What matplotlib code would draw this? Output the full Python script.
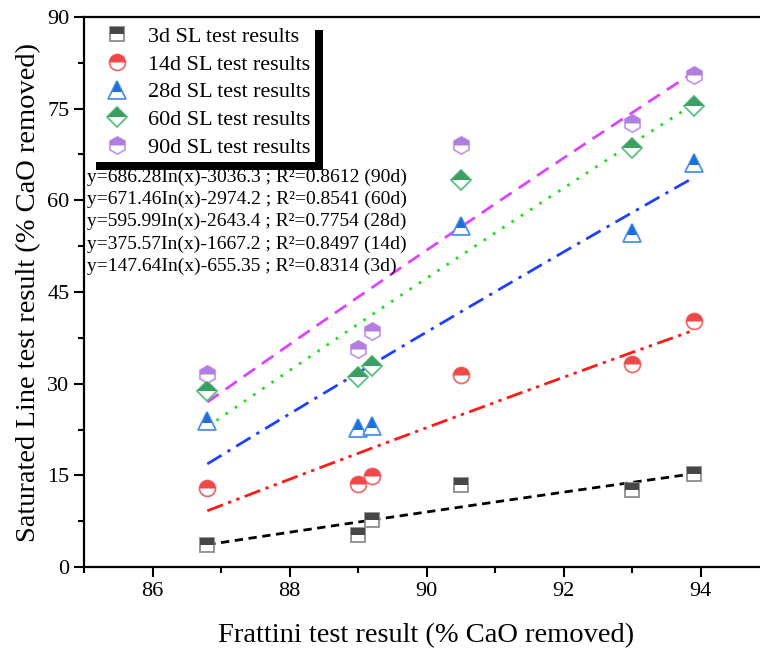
import numpy as np
import matplotlib
matplotlib.use("Agg")
import matplotlib.pyplot as plt
from matplotlib.patches import Rectangle
from matplotlib.ticker import MultipleLocator

plt.rcParams['font.family'] = ['Liberation Serif', 'DejaVu Serif']
plt.rcParams['mathtext.fontset'] = 'stix'

# Data
frattini = [86.8, 89.0, 89.2, 90.5, 93.0, 93.9]
sl_3d = [3.6, 5.2, 7.7, 13.4, 12.6, 15.2]
sl_14d = [12.9, 13.6, 14.9, 31.4, 33.2, 40.3]
sl_28d = [23.9, 22.7, 23.1, 55.8, 54.7, 66.1]
sl_60d = [28.8, 31.1, 32.9, 63.3, 68.6, 75.4]
sl_90d = [31.6, 35.7, 38.6, 69.1, 72.7, 80.5]

labels = ["3d SL test results", "14d SL test results", "28d SL test results",
          "60d SL test results", "90d SL test results"]
fit_a = [147.64, 375.57, 595.99, 671.46, 686.28]
fit_b = [-655.35, -1667.2, -2643.4, -2974.2, -3036.3]
fit_r2 = ["0.8314", "0.8497", "0.7754", "0.8541", "0.8612"]
fit_tag = ["3d", "14d", "28d", "60d", "90d"]
fit_a_txt = ["147.64", "375.57", "595.99", "671.46", "686.28"]
fit_b_txt = ["655.35", "1667.2", "2643.4", "2974.2", "3036.3"]

series = [sl_3d, sl_14d, sl_28d, sl_60d, sl_90d]
markers = ['s', 'o', '^', 'D', 'h']
face = ['#474747', '#f04848', '#1f6fd8', '#3aa062', '#b07ee0']
edge = ['#8c8c8c', '#f06a6a', '#4d90ea', '#5cbf82', '#c29ae8']
msizes = [10, 11.5, 12.5, 10.5, 12.5]
line_colors = ['black', '#ff1a1a', '#2040ff', '#22dd22', '#dd44ff']
line_styles = [(0, (3, 2)), (0, (6, 2, 1.2, 2, 1.2, 2)), (0, (6, 2.5, 1.2, 2.5)),
               (0, (1, 3)), (0, (5, 3))]

fig = plt.figure(figsize=(7.6, 6.56), dpi=100)
ax = fig.add_axes([84 / 760, 89 / 656, 685 / 760, 550 / 656])

xfit = np.linspace(min(frattini), max(frattini), 200)
for i in range(5):
    ax.plot(xfit, fit_a[i] * np.log(xfit) + fit_b[i], color=line_colors[i],
            linestyle=line_styles[i], linewidth=2, zorder=2)

handles = []
for i in range(5):
    h1, = ax.plot(frattini, series[i], linestyle='none', marker=markers[i],
                  markersize=msizes[i], markerfacecolor='white',
                  markeredgecolor=edge[i], markeredgewidth=1.3, zorder=3)
    h2, = ax.plot(frattini, series[i], linestyle='none', marker=markers[i],
                  markersize=msizes[i], fillstyle='top', markerfacecolor=face[i],
                  markerfacecoloralt='none', markeredgewidth=0, zorder=3.1)
    handles.append((h1, h2))

ax.set_xlim(85, 95)
ax.set_ylim(0, 90)
ax.xaxis.set_major_locator(MultipleLocator(2))
ax.xaxis.set_minor_locator(MultipleLocator(1))
ax.yaxis.set_major_locator(MultipleLocator(15))
ax.yaxis.set_minor_locator(MultipleLocator(7.5))
ax.tick_params(which='major', direction='out', length=7, width=1.5, labelsize=16)
ax.tick_params(which='minor', direction='out', length=4, width=1.5)
for s in ['left', 'bottom', 'top', 'right']:
    ax.spines[s].set_linewidth(1.6)

ax.set_xlabel("Frattini test result (% CaO removed)", fontsize=20.5, labelpad=16)
ax.set_ylabel("Saturated Line test result (% CaO removed)", fontsize=20.5, labelpad=4)

leg = ax.legend(handles=handles, labels=labels, loc='upper left',
                bbox_to_anchor=(0.006, 0.991), borderaxespad=0,
                fontsize=15.9, frameon=True, fancybox=False, edgecolor='white',
                framealpha=1, handletextpad=0.3, labelspacing=0.33,
                borderpad=0.2, handlelength=2.2)
leg.set_zorder(2.2)

# equations
for k, i in enumerate([4, 3, 2, 1, 0]):
    txt = "y=%sIn(x)-%s ; R\u00b2=%s (%s)" % (fit_a_txt[i], fit_b_txt[i], fit_r2[i], fit_tag[i])
    ax.text(0.004, 0.709 - k * 0.0405, txt, transform=ax.transAxes,
            fontsize=14, va='center', ha='left', zorder=6)

fig.canvas.draw()
bb = leg.get_window_extent()
t = 8
fig.patches.append(Rectangle((bb.x1, bb.y0 - t), t, bb.height, transform=None,
                             facecolor='black', edgecolor='none', zorder=10))
fig.patches.append(Rectangle((bb.x0 + t, bb.y0 - t), bb.width, t, transform=None,
                             facecolor='black', edgecolor='none', zorder=10))

fig.savefig("out.png", dpi=100)
